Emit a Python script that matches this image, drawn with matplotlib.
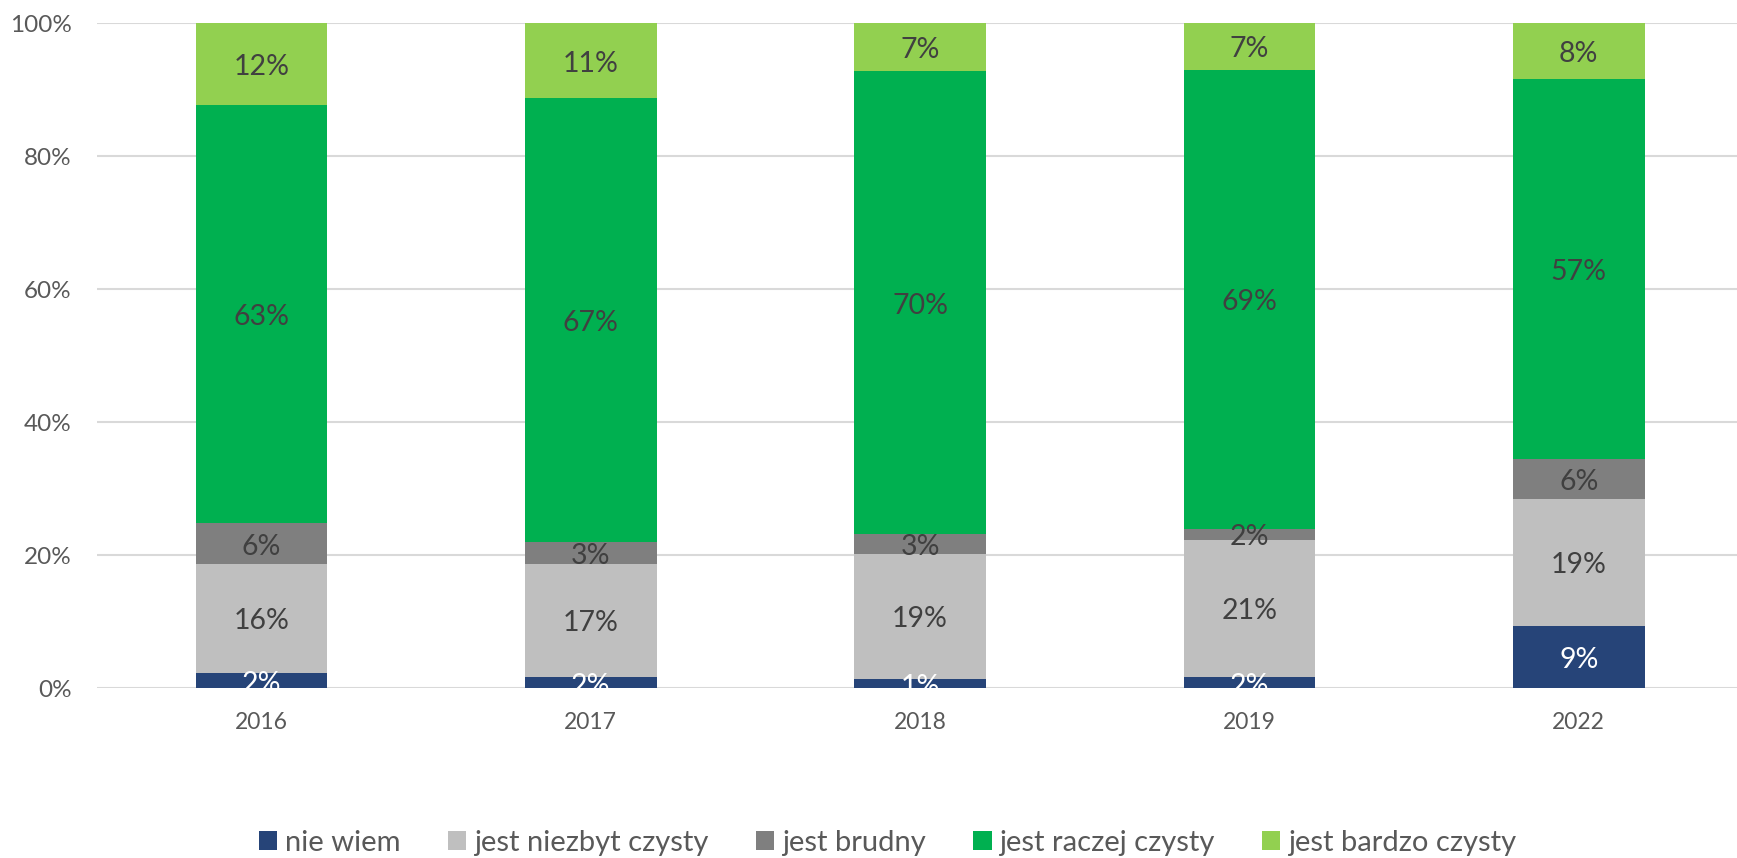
import matplotlib
matplotlib.use("Agg")
import matplotlib.pyplot as plt
from matplotlib.patches import Patch

years = ["2016", "2017", "2018", "2019", "2022"]
series_names = ["nie wiem", "jest niezbyt czysty", "jest brudny", "jest raczej czysty", "jest bardzo czysty"]
nie_wiem = [2.3, 1.7, 1.4, 1.7, 9.3]
niezbyt = [16.4, 17.0, 18.8, 20.6, 19.2]
brudny = [6.1, 3.3, 3.0, 1.7, 6.0]
raczej = [62.9, 66.7, 69.6, 69.0, 57.1]
bardzo = [12.3, 11.3, 7.2, 7.0, 8.4]
yticks = [0, 20, 40, 60, 80, 100]
ytick_labels = ["0%", "20%", "40%", "60%", "80%", "100%"]

colors = ["#264478", "#BFBFBF", "#7F7F7F", "#00B050", "#92D050"]
label_colors = ["white", "#404040", "#404040", "#404040", "#404040"]

plt.rcParams['font.family'] = ['Lato', 'DejaVu Sans']

fig = plt.figure(figsize=(17.37, 8.58), dpi=100)
ax = fig.add_axes([0.0557, 0.198, 0.948, 0.775])

x = list(range(len(years)))
bottoms = [0.0] * len(years)
all_series = [nie_wiem, niezbyt, brudny, raczej, bardzo]
for vals, col, lc in zip(all_series, colors, label_colors):
    ax.bar(x, vals, bottom=bottoms, width=0.4, color=col, zorder=3)
    for i, v in enumerate(vals):
        t = ax.annotate(f"{round(v)}%", xy=(x[i], bottoms[i] + v / 2), xytext=(0, -2.2),
                        textcoords="offset points", ha="center", va="center",
                        color=lc, fontsize=20.5, zorder=4)
        t.set_clip_on(True)
    bottoms = [b + v for b, v in zip(bottoms, vals)]

ax.set_xlim(-0.5, len(years) - 0.5)
ax.set_ylim(0, 100)
ax.set_yticks(yticks)
ax.set_yticklabels(ytick_labels)
ax.set_xticks(x)
ax.set_xticklabels(years)
ax.tick_params(axis="y", length=0, labelsize=17.5, labelcolor="#595959", pad=18)
ax.tick_params(axis="x", length=0, labelsize=16.5, labelcolor="#595959", pad=17)
ax.yaxis.grid(True, color="#D9D9D9", linewidth=1.5, zorder=0)
for s in ax.spines.values():
    s.set_visible(False)

handles = [Patch(facecolor=c, edgecolor="none") for c in colors]
fig.legend(handles, series_names, loc="center", bbox_to_anchor=(0.511, 0.018),
           ncol=5, frameon=False, fontsize=21, labelcolor="#595959",
           handlelength=0.62, handleheight=0.62, handletextpad=0.25, columnspacing=1.65)

fig.savefig("out.png", dpi=100)
